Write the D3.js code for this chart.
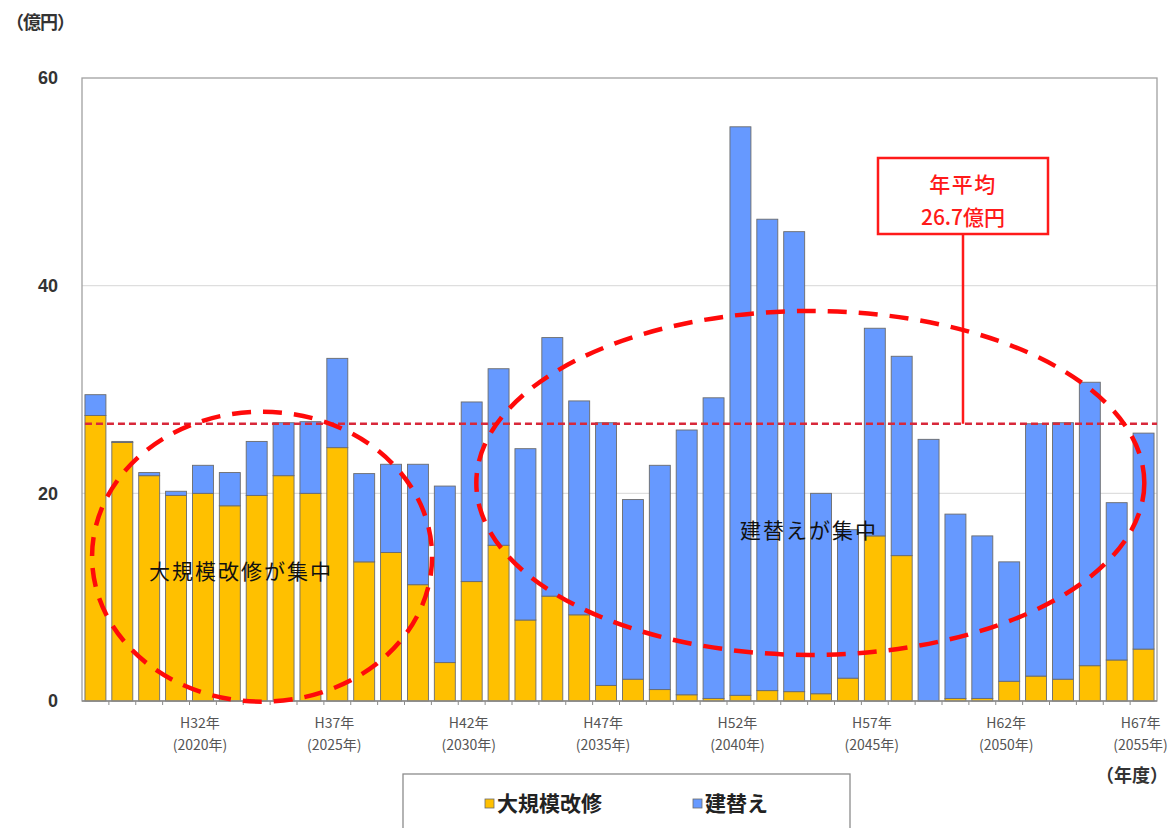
<!DOCTYPE html>
<html><head><meta charset="utf-8">
<script src="https://cdn.jsdelivr.net/npm/d3@7"></script>
<style>
body{margin:0;background:#fff;}
svg{display:block;font-family:"Noto Sans CJK JP","Noto Sans",sans-serif;}
</style></head>
<body><svg id="c" width="1171" height="828"></svg>
<script>
const years = d3.range(2016, 2056);
const renovation = [27.5,24.9,21.7,19.8,20.0,18.8,19.8,21.7,20.0,24.4,13.4,14.3,11.2,3.7,11.5,15.0,7.8,10.1,8.3,1.5,2.1,1.1,0.6,0.25,0.55,1.0,0.9,0.7,2.2,15.9,14.0,0,0.25,0.25,1.9,2.4,2.1,3.4,3.95,5.0];
const totals = [29.5,25.0,22.0,20.2,22.7,22.0,25.0,26.8,26.9,33.0,21.9,22.8,22.8,20.7,28.8,32.0,24.3,35.0,28.9,26.8,19.4,22.7,26.1,29.2,55.3,46.4,45.2,20.0,16.5,35.9,33.2,25.2,18.0,15.9,13.4,26.7,26.8,30.7,19.1,25.8];
const rebuild = totals.map((t,i)=>+(t-renovation[i]).toFixed(2));
const seriesNames = ["大規模改修","建替え"];
const seriesColors = ["#FFC000","#6699FF"];
const yTicks = [0,20,40,60];
const labelYears = [2020,2025,2030,2035,2040,2045,2050,2055];
const heiseiLabels = ["H32年","H37年","H42年","H47年","H52年","H57年","H62年","H67年"];
const average = 26.7;

const svg = d3.select("#c");
const L=82,R=1157,T=78,B=701;
const x = d3.scaleBand().domain(years).range([L,R]).paddingInner(0.22).paddingOuter(0.11);
const y = d3.scaleLinear().domain([0,60]).range([B,T]);
const xc = d3.scaleLinear().domain([2016,2055]).range([x(2016)+x.bandwidth()/2, x(2055)+x.bandwidth()/2]);

svg.append("g").selectAll("line").data([20,40]).join("line")
  .attr("x1",L).attr("x2",R).attr("y1",d=>y(d)).attr("y2",d=>y(d))
  .attr("stroke","#dedede").attr("stroke-width",1.2);
svg.append("rect").attr("x",L).attr("y",T).attr("width",R-L).attr("height",B-T)
  .attr("fill","none").attr("stroke","#a0a0a0").attr("stroke-width",1.3);

svg.append("g").selectAll("text").data(yTicks).join("text")
  .attr("x",58).attr("y",d=>y(d)).attr("dy","0.35em").attr("text-anchor","end")
  .attr("font-family","Liberation Sans, Arial, sans-serif").attr("font-weight","bold")
  .attr("font-size",18).attr("fill","#333").text(d=>d);
svg.append("text").attr("x",6).attr("y",29).attr("font-size",18).attr("font-weight","bold")
  .attr("fill","#333").text("（億円）").attr("letter-spacing",-1);

const stackData = years.map((yr,i)=>({year:yr,a:renovation[i],b:rebuild[i]}));
const stack = d3.stack().keys(["a","b"])(stackData);
svg.append("g").selectAll("g").data(stack).join("g")
  .attr("fill",(d,i)=>seriesColors[i])
  .selectAll("rect").data(d=>d).join("rect")
  .attr("x",d=>x(d.data.year)).attr("width",x.bandwidth())
  .attr("y",d=>y(d[1])).attr("height",d=>Math.max(0,y(d[0])-y(d[1])))
  .attr("stroke","#6b6b6b").attr("stroke-width",0.9);

svg.append("line").attr("x1",L).attr("x2",R).attr("y1",B).attr("y2",B).attr("stroke","#8a8a8a").attr("stroke-width",1.3);
svg.append("g").selectAll("line").data(years.slice(1)).join("line")
  .attr("x1",d=>x(d)-x.step()*x.paddingInner()/2).attr("x2",d=>x(d)-x.step()*x.paddingInner()/2)
  .attr("y1",B).attr("y2",B+4).attr("stroke","#8a8a8a");

const xl = svg.append("g").selectAll("g").data(labelYears).join("g")
  .attr("transform",d=>`translate(${x(d)+x.bandwidth()/2-3},0)`);
xl.append("text").attr("y",728).attr("text-anchor","middle").attr("font-size",14).attr("fill","#555")
  .text((d,i)=>heiseiLabels[i]);
xl.append("text").attr("y",750).attr("text-anchor","middle").attr("font-size",14).attr("fill","#555")
  .text(d=>`(${d}年)`);
svg.append("text").attr("x",1168).attr("y",782).attr("text-anchor","end").attr("font-size",18)
  .attr("font-weight","bold").attr("fill","#333").text("（年度）");

svg.append("line").attr("x1",x(2016)).attr("x2",R).attr("y1",y(average)).attr("y2",y(average))
  .attr("stroke","#d8283a").attr("stroke-width",2.3).attr("stroke-dasharray","7,4");

const cx0 = 963;
svg.append("line").attr("x1",cx0).attr("x2",cx0).attr("y1",234).attr("y2",y(average))
  .attr("stroke","#ff1a1a").attr("stroke-width",2.5);
svg.append("rect").attr("x",878).attr("y",158).attr("width",170).attr("height",76)
  .attr("fill","#fff").attr("stroke","#ff1a1a").attr("stroke-width",2.5);
svg.append("text").attr("x",cx0).attr("y",192).attr("text-anchor","middle").attr("font-size",21)
  .attr("font-weight","500").attr("fill","#ff1a1a").attr("letter-spacing",1.5).text("年平均");
svg.append("text").attr("x",cx0).attr("y",225).attr("text-anchor","middle").attr("font-size",21)
  .attr("font-weight","500").attr("fill","#ff1a1a").text(`${average}億円`);

const ell = [
  {cyr:2022.2, cv:13.9, rx:170, ry:145, label:"大規模改修が集中", lx:241, ly:579},
  {cyr:2042.6, cv:21.0, rx:334, ry:172, label:"建替えが集中", lx:809, ly:538}
];
svg.append("g").selectAll("ellipse").data(ell).join("ellipse")
  .attr("cx",d=>xc(d.cyr)).attr("cy",d=>y(d.cv)).attr("rx",d=>d.rx).attr("ry",d=>d.ry)
  .attr("fill","none").attr("stroke","#ff0a0a").attr("stroke-width",4.5).attr("stroke-dasharray","19,12");
svg.append("g").selectAll("text").data(ell).join("text")
  .attr("x",d=>d.lx).attr("y",d=>d.ly).attr("text-anchor","middle").attr("font-size",21)
  .attr("letter-spacing",2).attr("fill","#111").text(d=>d.label);

svg.append("rect").attr("x",403).attr("y",774).attr("width",447).attr("height",70)
  .attr("fill","#fff").attr("stroke","#8c8c8c").attr("stroke-width",1.3);
const lg = svg.append("g").selectAll("g").data(seriesNames).join("g")
  .attr("transform",(d,i)=>`translate(${i?693:485},0)`);
lg.append("rect").attr("x",0).attr("y",799).attr("width",9).attr("height",9)
  .attr("fill",(d,i)=>seriesColors[i]).attr("stroke","#6b6b6b").attr("stroke-width",0.8);
lg.append("text").attr("x",12).attr("y",811).attr("font-size",21).attr("font-weight","bold")
  .attr("fill","#222").text(d=>d);
</script></body></html>
